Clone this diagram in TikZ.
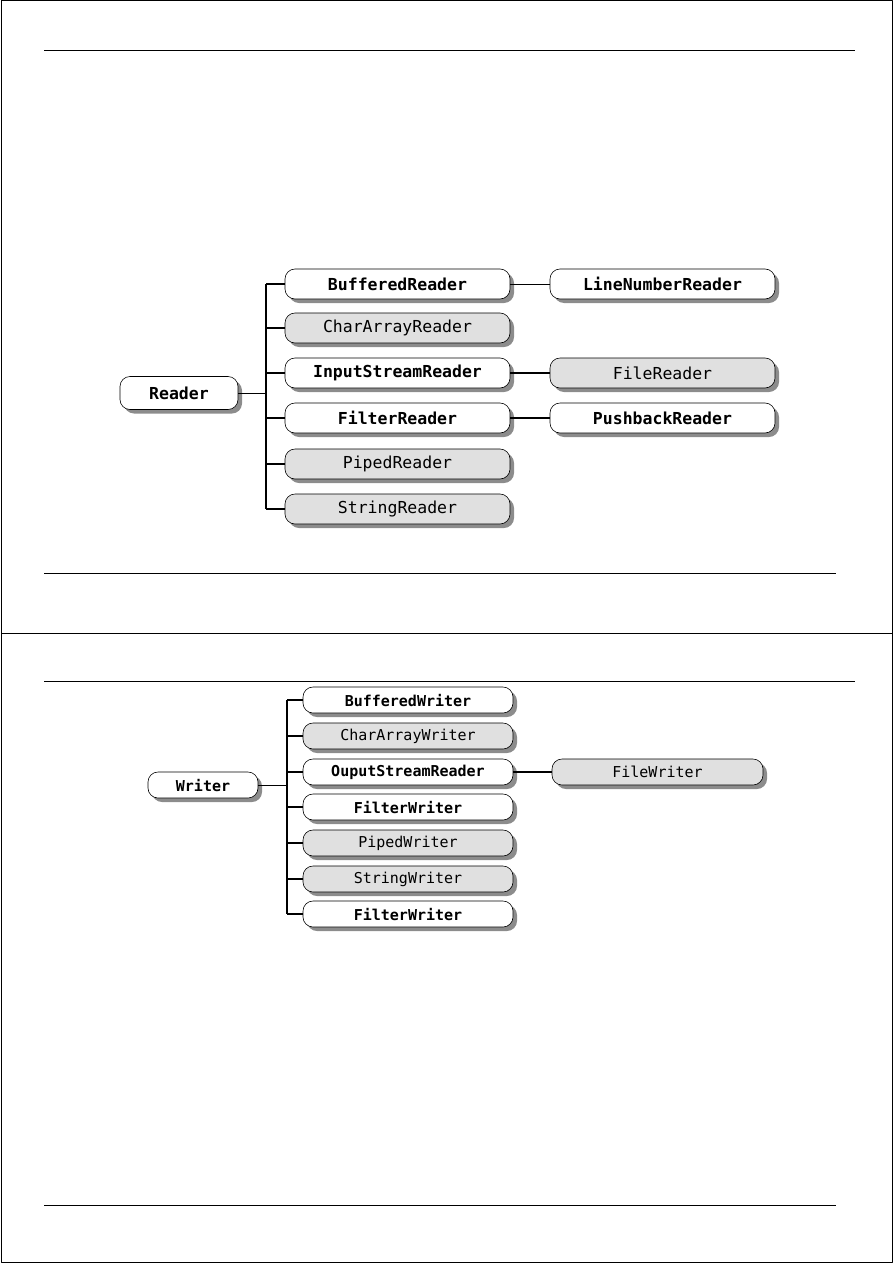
\documentclass[tikz,border=0pt]{standalone}
\usepackage{fontspec}
\setmonofont{DejaVu Sans Mono}
\usetikzlibrary{positioning,shadows}

\begin{document}
\begin{tikzpicture}[x=1pt, y=-1pt, line join=round,
  cls/.style={draw, semithick, rounded corners=10pt, fill=white, inner sep=0pt,
    drop shadow={shadow xshift=4pt, shadow yshift=-4pt, fill=black!45, opacity=1}},
  rb/.style={cls, minimum width=225pt, minimum height=30pt, font=\ttfamily\bfseries\fontsize{16.5}{16.5}\selectfont},
  rg/.style={rb, fill=black!12, font=\ttfamily\fontsize{16.5}{16.5}\selectfont},
  wb/.style={cls, minimum width=210pt, minimum height=26pt, font=\ttfamily\bfseries\fontsize{15}{15}\selectfont},
  wg/.style={wb, fill=black!12, font=\ttfamily\fontsize{15}{15}\selectfont},
  thk/.style={line width=2.2pt}, thn/.style={line width=1pt}, rule/.style={line width=1pt}]
\useasboundingbox (0,0) rectangle (893,1263);
% page frame and rules
\draw[rule] (1,1) rectangle (892,1262);
\draw[rule] (1,633) -- (892,633);
\draw[rule] (44,51) -- (855,51);
\draw[rule] (44,573) -- (836,573);
\draw[rule] (44,681) -- (855,681);
\draw[rule] (44,1205) -- (836,1205);

% Reader hierarchy
\node[rb, minimum width=118pt, minimum height=33pt] (rd) at (179,393) {Reader};
\node[rb] (br) at (397.5,284) {BufferedReader};
\node[rg] (ca) at (397.5,328) {CharArrayReader};
\node[rb] (is) at (397.5,373) {InputStreamReader};
\node[rb] (fr) at (397.5,418) {FilterReader};
\node[rg] (pr) at (397.5,464) {PipedReader};
\node[rg] (sr) at (397.5,509) {StringReader};
\node[rb] (ln) at (662.5,284) {LineNumberReader};
\node[rg] (fl) at (662.5,373) {FileReader};
\node[rb] (pb) at (662.5,418) {PushbackReader};
\coordinate (rt) at (266,393);
\draw[thn] (rd.east) -- (rt);
\draw[thk] (rt|-br.west) -- (rt|-sr.west);
\foreach \n in {br,ca,is,fr,pr,sr} \draw[thk] (rt|-\n.west) -- (\n.west);
\draw[thn] (br) -- (ln);
\draw[thk] (is) -- (fl);
\draw[thk] (fr) -- (pb);

% Writer hierarchy
\node[wb, minimum width=110pt] (wr) at (203,785) {Writer};
\node[wb] (bw) at (408,700) {BufferedWriter};
\node[wg] (cw) at (408,736) {CharArrayWriter};
\node[wb] (os) at (408,772) {OuputStreamReader};
\node[wb] (fw) at (408,807) {FilterWriter};
\node[wg] (pw) at (408,843) {PipedWriter};
\node[wg] (sw) at (408,879) {StringWriter};
\node[wb] (fx) at (408,914) {FilterWriter};
\node[wg, minimum width=211pt] (fi) at (657.5,772) {FileWriter};
\coordinate (wt) at (287,785);
\draw[thn] (wr.east) -- (wt);
\draw[thk] (wt|-bw.west) -- (wt|-fx.west);
\foreach \n in {bw,cw,os,fw,pw,sw,fx} \draw[thk] (wt|-\n.west) -- (\n.west);
\draw[thk] (os) -- (fi);
\end{tikzpicture}
\end{document}
